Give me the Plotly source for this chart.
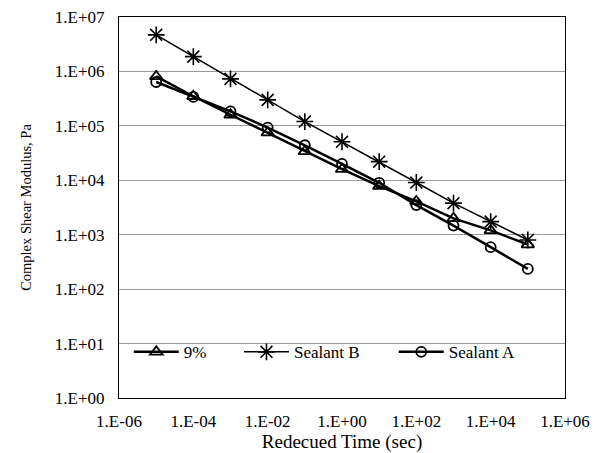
import plotly.graph_objects as go

time_sec = [1e-5, 1e-4, 1e-3, 1e-2, 1e-1, 1e0, 1e1, 1e2, 1e3, 1e4, 1e5]
g_9pct = [8.1e5, 3.5e5, 1.6e5, 7.5e4, 3.4e4, 1.6e4, 7.8e3, 4.1e3, 2.0e3, 1.2e3, 6.6e2]
g_sealant_b = [4.7e6, 1.87e6, 7.3e5, 3.0e5, 1.2e5, 5.1e4, 2.2e4, 9.1e3, 3.8e3, 1.74e3, 8.0e2]
g_sealant_a = [6.4e5, 3.4e5, 1.85e5, 9.3e4, 4.4e4, 2.0e4, 9.0e3, 3.5e3, 1.47e3, 5.9e2, 2.35e2]

x_tickvals = [1e-6, 1e-4, 1e-2, 1e0, 1e2, 1e4, 1e6]
x_ticktext = ["1.E-06", "1.E-04", "1.E-02", "1.E+00", "1.E+02", "1.E+04", "1.E+06"]
y_tickvals = [1e0, 1e1, 1e2, 1e3, 1e4, 1e5, 1e6, 1e7]
y_ticktext = ["1.E+00", "1.E+01", "1.E+02", "1.E+03", "1.E+04", "1.E+05", "1.E+06", "1.E+07"]

FONT = "Liberation Serif"

fig = go.Figure()
fig.add_trace(go.Scatter(
    x=time_sec, y=g_9pct, name="9%", mode="lines+markers",
    line=dict(color="black", width=2.5),
    marker=dict(symbol="triangle-up-open", size=11, color="black", line=dict(width=1.8)),
    legend="legend"))
fig.add_trace(go.Scatter(
    x=time_sec, y=g_sealant_b, name="Sealant B", mode="lines+markers",
    line=dict(color="black", width=1.5),
    marker=dict(symbol="asterisk-open", size=14, color="black", line=dict(width=1.6)),
    legend="legend2"))
fig.add_trace(go.Scatter(
    x=time_sec, y=g_sealant_a, name="Sealant A", mode="lines+markers",
    line=dict(color="black", width=2.5),
    marker=dict(symbol="circle-open", size=10, color="black", line=dict(width=1.8)),
    legend="legend3"))

leg_common = dict(yanchor="middle", y=0.12, xanchor="left", bgcolor="rgba(0,0,0,0)",
                  itemwidth=45,
                  font=dict(family=FONT, size=17, color="black"), borderwidth=0)

fig.update_layout(
    width=604, height=453,
    margin=dict(l=119, r=39, t=17, b=55),
    showlegend=True,
    paper_bgcolor="white", plot_bgcolor="white",
    font=dict(family=FONT, size=17, color="black"),
    legend=dict(x=0.022, **leg_common),
    legend2=dict(x=0.269, **leg_common),
    legend3=dict(x=0.616, **leg_common),
    xaxis=dict(type="log", range=[-6, 6], tickvals=x_tickvals, ticktext=x_ticktext,
               showgrid=False, showline=True, linecolor="black", linewidth=1, mirror=True,
               ticks="", zeroline=False, ticklabelstandoff=8, automargin=False,
               tickfont=dict(family=FONT, size=17),
               title=dict(text="Redecued Time (sec)", font=dict(family=FONT, size=19), standoff=4)),
    yaxis=dict(type="log", range=[0, 7], tickvals=y_tickvals, ticktext=y_ticktext,
               showgrid=True, gridcolor="#9a9a9a", gridwidth=1,
               showline=True, linecolor="black", linewidth=1, mirror=True,
               ticks="", zeroline=False, ticklabelstandoff=10, automargin=False,
               tickfont=dict(family=FONT, size=17),
               title=dict(text="Complex Shear Modulus, Pa", font=dict(family=FONT, size=14.5), standoff=19)),
)

fig.write_html("out.html", config={"displayModeBar": False},
               post_script="document.body.style.margin='0';")
